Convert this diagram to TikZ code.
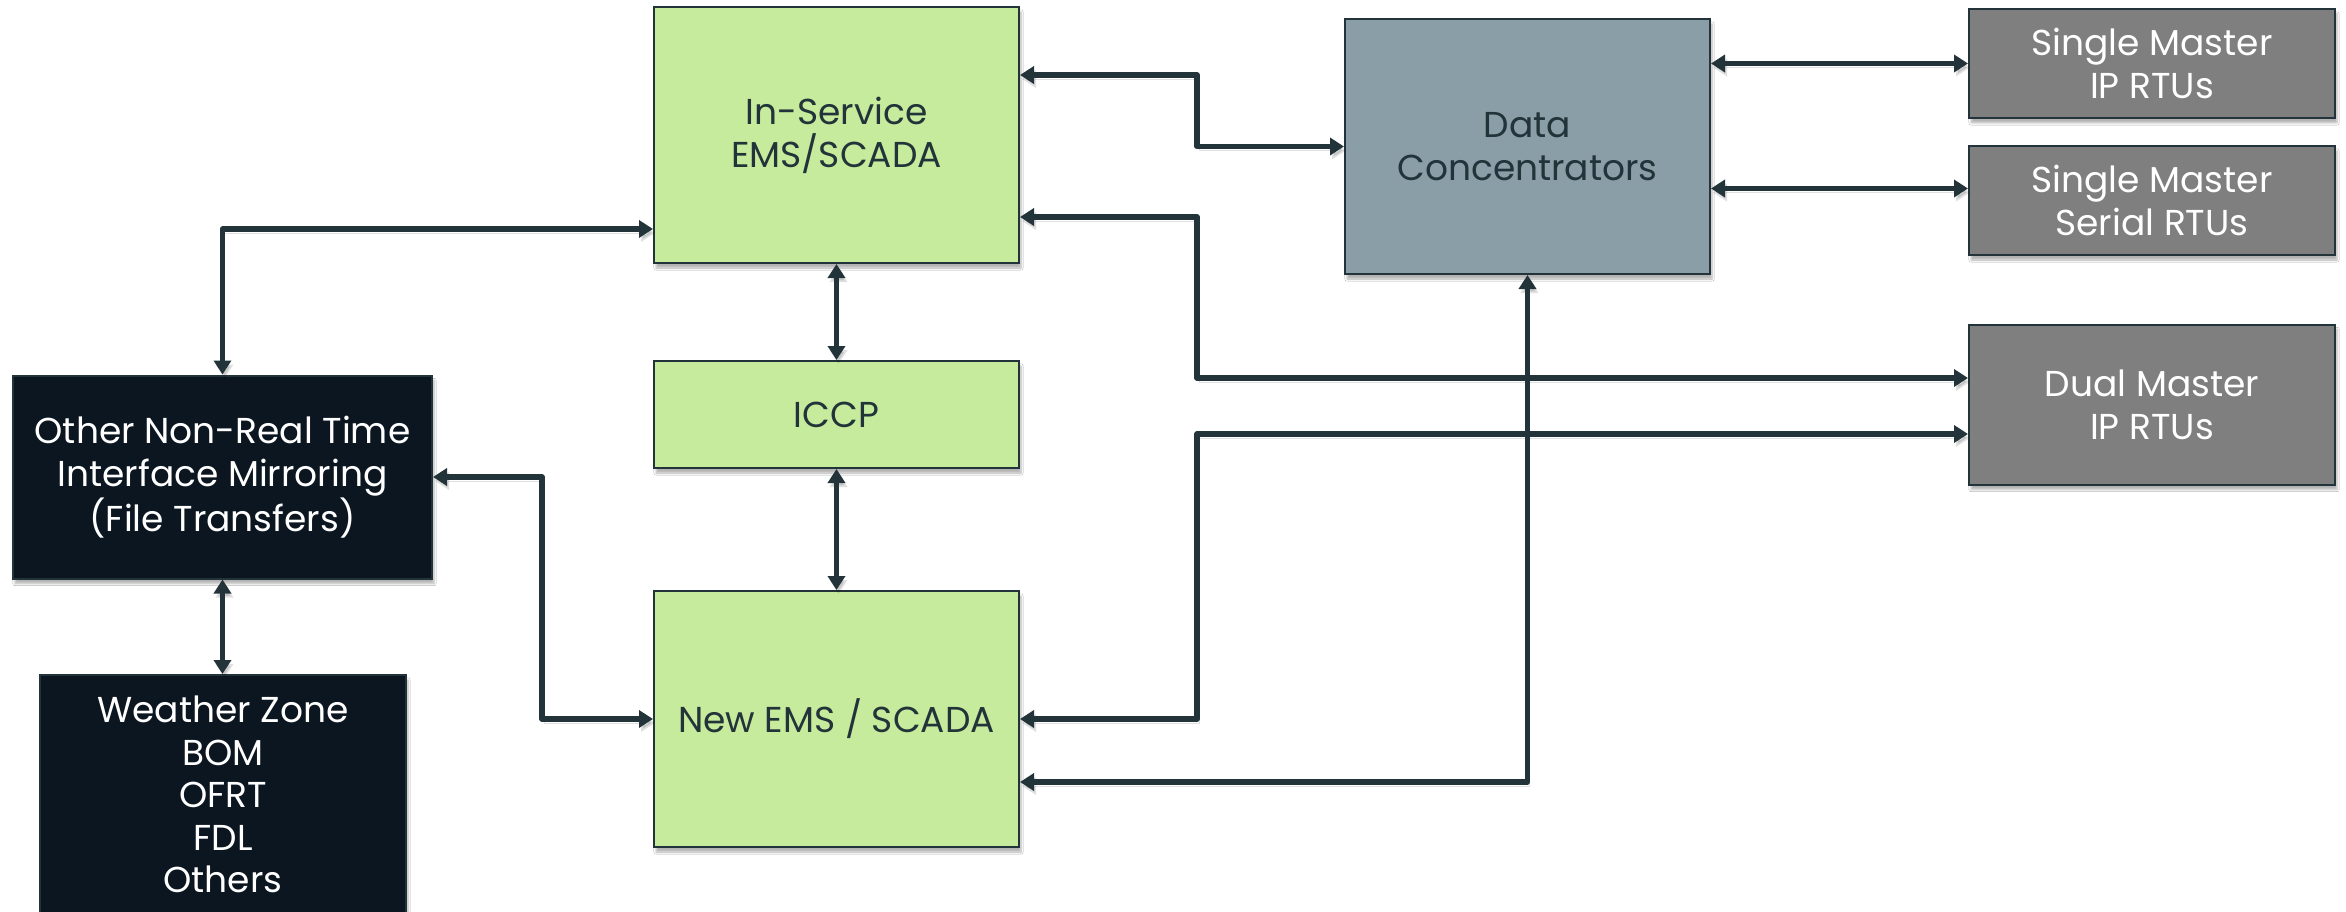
\documentclass[tikz,border=0pt]{standalone}
\usepackage{fontspec}
\setmainfont{Poppins}
\usetikzlibrary{arrows.meta,calc,shadows.blur}
\definecolor{lineC}{HTML}{22343A}
\definecolor{greenC}{HTML}{C6EB9C}
\definecolor{dcC}{HTML}{899EA6}
\definecolor{rtuC}{HTML}{7F7F7F}
\definecolor{darkC}{HTML}{0B1620}
\tikzset{
  box/.style={draw=lineC, line width=2pt, minimum width=365pt, inner sep=0pt, align=center,
    font=\fontsize{36}{43}\selectfont,
    blur shadow={shadow xshift=2pt, shadow yshift=-5pt, shadow blur steps=6, shadow opacity=30}},
  greenbox/.style={box, fill=greenC, text=lineC},
  dcbox/.style={box, fill=dcC, text=lineC},
  rtubox/.style={box, fill=rtuC, text=white, minimum width=366pt},
  darkbox/.style={box, fill=darkC, text=white},
  link/.style={draw=lineC, line width=5.5pt, line join=round,
    {Triangle[length=14pt,width=17pt]}-{Triangle[length=14pt,width=17pt]},
    preaction={draw=black, opacity=0.12, transform canvas={shift={(2pt,-4pt)}}}},
}
\begin{document}
\begin{tikzpicture}[x=1pt,y=-1pt]
\useasboundingbox (0,0) rectangle (2346,912);
\clip (0,0) rectangle (2346,912);
\fill[white] (0,0) rectangle (2346,912);

% nodes
\node[greenbox, minimum height=256pt] (inserv) at (836.5,135) {In-Service\\EMS/SCADA};
\node[greenbox, minimum height=107pt] (iccp) at (836.5,414.5) {ICCP};
\node[greenbox, minimum height=256pt] (newems) at (836.5,719) {New EMS / SCADA};
\node[dcbox, minimum height=255pt] (dc) at (1527.5,146.5) {Data\\Concentrators};
\node[rtubox, minimum height=109pt] (smip) at (2152,63.5) {Single Master\\IP RTUs};
\node[rtubox, minimum height=109pt] (smser) at (2152,200.5) {Single Master\\Serial RTUs};
\node[rtubox, minimum height=160pt] (dual) at (2152,404.5) {Dual Master\\IP RTUs};
\node[darkbox, minimum width=419pt, minimum height=203pt] (nrt) at (222.5,477) {Other Non-Real Time\\Interface Mirroring\\(File Transfers)};
\node[darkbox, minimum width=366pt, minimum height=290pt] (wz) at (223,820) {};
\node[align=center, text=white, font=\fontsize{36}{42.5}\selectfont, inner sep=0pt] (wzt) at (223,794.5) {Weather Zone\\BOM\\OFRT\\FDL\\Others};

% helper coordinates
\coordinate (cA) at (1197,0);
\coordinate (cB) at (542,0);
\coordinate (p1) at ([yshift=60pt]inserv.east);
\coordinate (p2) at ([yshift=-82pt]inserv.east);
\coordinate (q2) at ([yshift=26.5pt]dual.west);
\coordinate (q3) at ([yshift=-29.5pt]dual.west);
\coordinate (p4) at ([yshift=-63pt]newems.east);
\coordinate (q6) at ([yshift=12pt]smser.west);
\coordinate (p9) at ([yshift=-94pt]inserv.west);

% connectors
\draw[link] (p1) -| (cA |- dc.west) -- (dc.west);
\draw[link] (p2) -| (cA |- q2) -- (q2);
\draw[link] (newems.east) -| (cA |- q3) -- (q3);
\draw[link] (p4) -| (dc.south);
\draw[link] (dc.east |- smip.west) -- (smip.west);
\draw[link] (dc.east |- q6) -- (q6);
\draw[link] (inserv.south) -- (iccp.north);
\draw[link] (iccp.south) -- (newems.north);
\draw[link] (nrt.north) |- (p9);
\draw[link] (nrt.east) -| (cB |- newems.west) -- (newems.west);
\draw[link] (nrt.south) -- (nrt.south |- wz.north);
\end{tikzpicture}
\end{document}
